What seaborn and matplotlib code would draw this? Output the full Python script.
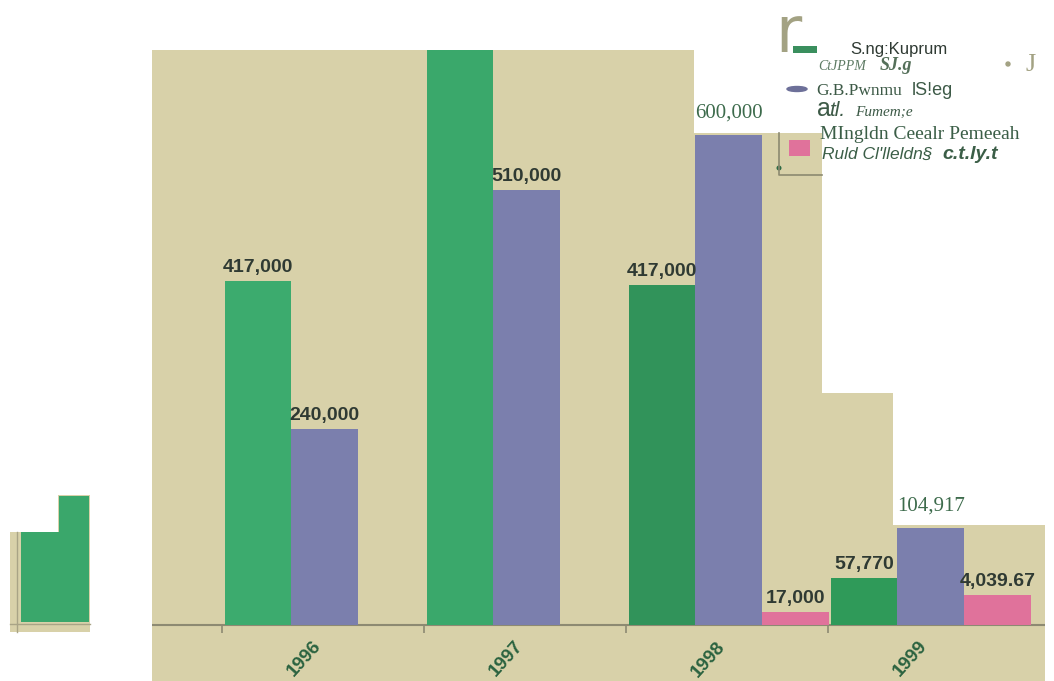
import matplotlib
matplotlib.use("Agg")
import matplotlib.pyplot as plt
import seaborn as sns
import pandas as pd
import numpy as np
from matplotlib.patches import Polygon, Rectangle, Ellipse, Circle

# ---------------- data ----------------
years = ["1996", "1997", "1998", "1999"]
series_names = ["S.ng:Kuprum", "G.B.Pwnmu", "MIngldn Ceealr Pemeeah"]
green_vals = [420000, 720000, 416000, 57500]
blue_vals = [240000, 532000, 599000, 118500]
pink_vals = [None, None, 16000, 36700]
green_labels = ["417,000", "", "417,000", "57,770"]
blue_labels = ["240,000", "510,000", "600,000", "104,917"]
pink_labels = ["", "", "17,000", "4,039.67"]
serif_labels = [("G.B.Pwnmu", "1998"), ("G.B.Pwnmu", "1999")]

colors = {"S.ng:Kuprum": "#3aa76b", "G.B.Pwnmu": "#7b7fad", "MIngldn Ceealr Pemeeah": "#e0729b"}
# scan shading of the green bars per year
green_shades = ["#3cab6e", "#3aa86b", "#31935a", "#2f9a59"]
all_vals = {series_names[0]: green_vals, series_names[1]: blue_vals, series_names[2]: pink_vals}
all_labels = {series_names[0]: green_labels, series_names[1]: blue_labels, series_names[2]: pink_labels}

rows = []
for s in series_names:
    for y, v in zip(years, all_vals[s]):
        if v is not None:
            rows.append({"year": y, "series": s, "value": v})
df = pd.DataFrame(rows)

BEIGE = "#d8d1a9"
W, H = 1054, 681

fig = plt.figure(figsize=(W / 100, H / 100), dpi=100, facecolor="white")

# background (collage layer, pixel coordinates)
bg = fig.add_axes([0, 0, 1, 1], zorder=0)
bg.set_xlim(0, W)
bg.set_ylim(H, 0)
bg.axis("off")
main_poly = [(152, 50), (694, 50), (694, 133), (822, 133), (822, 393), (893, 393),
             (893, 525), (1045, 525), (1045, 681), (152, 681)]
bg.add_patch(Polygon(main_poly, closed=True, color=BEIGE, lw=0))
# small fragment at the left
bg.add_patch(Polygon([(10, 532), (58, 532), (58, 495), (90, 495), (90, 632), (10, 632)],
                     closed=True, color=BEIGE, lw=0))
bg.add_patch(Polygon([(21, 532), (59, 532), (59, 496), (89, 496), (89, 622), (21, 622)],
                     closed=True, color="#3aa76b", lw=0))
bg.plot([17, 17], [532, 632], color="#a9a486", lw=1)
bg.plot([10, 90], [624, 624], color="#a9a486", lw=1)

# legend fragments
r_txt = bg.text(775, 52, "r", fontsize=46, family="DejaVu Sans", color="#a3a283", va="baseline")
bg.add_patch(Rectangle((793, 46), 24, 7, color="#3a8f5e", lw=0))
bg.text(850, 54, "S.ng:Kuprum", fontsize=12, family="Liberation Sans", color="#2f3a33", va="baseline")
bg.text(818, 70, "CtJPPM", fontsize=10, family="Liberation Serif", style="italic", color="#5d7a63", va="baseline")
bg.text(880, 70, "SJ.g", fontsize=13, family="Liberation Serif", style="italic", weight="bold", color="#55705a", va="baseline")
bg.add_patch(Circle((1008, 64), 2, color="#a3a283"))
bg.text(1026, 71, "J", fontsize=19, family="Liberation Serif", color="#a3a283", va="baseline")
bg.add_patch(Ellipse((797, 89), 20, 5, color="#6d7099"))
bg.text(816, 95, "G.B.Pwnmu", fontsize=12.5, family="Liberation Serif", color="#3d5a47", va="baseline")
bg.text(912, 95, "lS!eg", fontsize=13, family="Liberation Sans", color="#3d5a47", va="baseline")
bg.text(817, 116, "a", fontsize=18, family="Liberation Sans", color="#3d5a47", va="baseline")
bg.text(829, 116, "tl.", fontsize=15, family="Liberation Sans", style="italic", color="#3d5a47", va="baseline")
bg.text(855, 116, "Fumem;e", fontsize=11, family="Liberation Serif", style="italic", color="#3d5a47", va="baseline")
bg.text(820, 139, "MIngldn Ceealr Pemeeah", fontsize=14, family="Liberation Serif", color="#3b5e47", va="baseline")
bg.text(822, 159, "Ruld Cl'lleldn§", fontsize=12.5, family="Liberation Sans", style="italic", color="#3b5e47", va="baseline")
bg.text(942, 159, "c.t.ly.t", fontsize=14, family="Liberation Sans", style="italic", weight="bold", color="#3b5e47", va="baseline")
bg.add_patch(Rectangle((789, 140), 21, 16, color="#e0729b", lw=0))
bg.plot([779, 779, 822], [133, 175, 175], color="#8c8a70", lw=1.2)
bg.add_patch(Circle((779, 168), 1.8, color="#2e6a44"))

# ---------------- main chart ----------------
ax = fig.add_axes([152 / W, 0, 893 / W, 631 / H], zorder=1)
ax.patch.set_alpha(0)
sns.barplot(data=df, x="year", y="value", hue="series", order=years, hue_order=series_names,
            palette=colors, width=0.99, dodge=True, saturation=1, legend=False,
            errorbar=None, ax=ax, linewidth=0)

ax.set_xlim(-0.854, 3.566)
ax.set_ylim(-68460, 702900)
for sp in ax.spines.values():
    sp.set_visible(False)
ax.set_yticks([])
ax.set_xticks([])
ax.set_xlabel("")
ax.set_ylabel("")
ax.axhline(0, color="#8d8a72", lw=1.5, zorder=0.5)
ax.vlines([i - 0.51 for i in range(len(years))], -9500, 0, color="#8d8a72", lw=1.2)

for i, y in enumerate(years):
    ax.text(i - 0.1, -41600, y, rotation=48, rotation_mode="anchor", ha="center", va="center",
            fontsize=13.5, fontweight="bold", family="Liberation Sans", color="#2b6340")

for container, s in zip(ax.containers, series_names):
    for bar in container:
        h = bar.get_height()
        if h is None or np.isnan(h):
            continue
        cx = bar.get_x() + bar.get_width() / 2
        idx = int(round(cx))
        if s == series_names[0]:
            bar.set_facecolor(green_shades[idx])
        lab = all_labels[s][idx]
        if not lab:
            continue
        if (s, years[idx]) in serif_labels:
            ax.annotate(lab, (cx, h), xytext=(0, 12.6), textcoords="offset points",
                        ha="center", va="baseline", fontsize=15, family="Liberation Serif",
                        color="#3d6b4c")
        else:
            ax.annotate(lab, (cx, h), xytext=(0, 6.5), textcoords="offset points",
                        ha="center", va="baseline", fontsize=14, fontweight="bold",
                        family="Liberation Sans", color="#2f3a33")

fig.savefig("out.png", dpi=100, facecolor="white")
